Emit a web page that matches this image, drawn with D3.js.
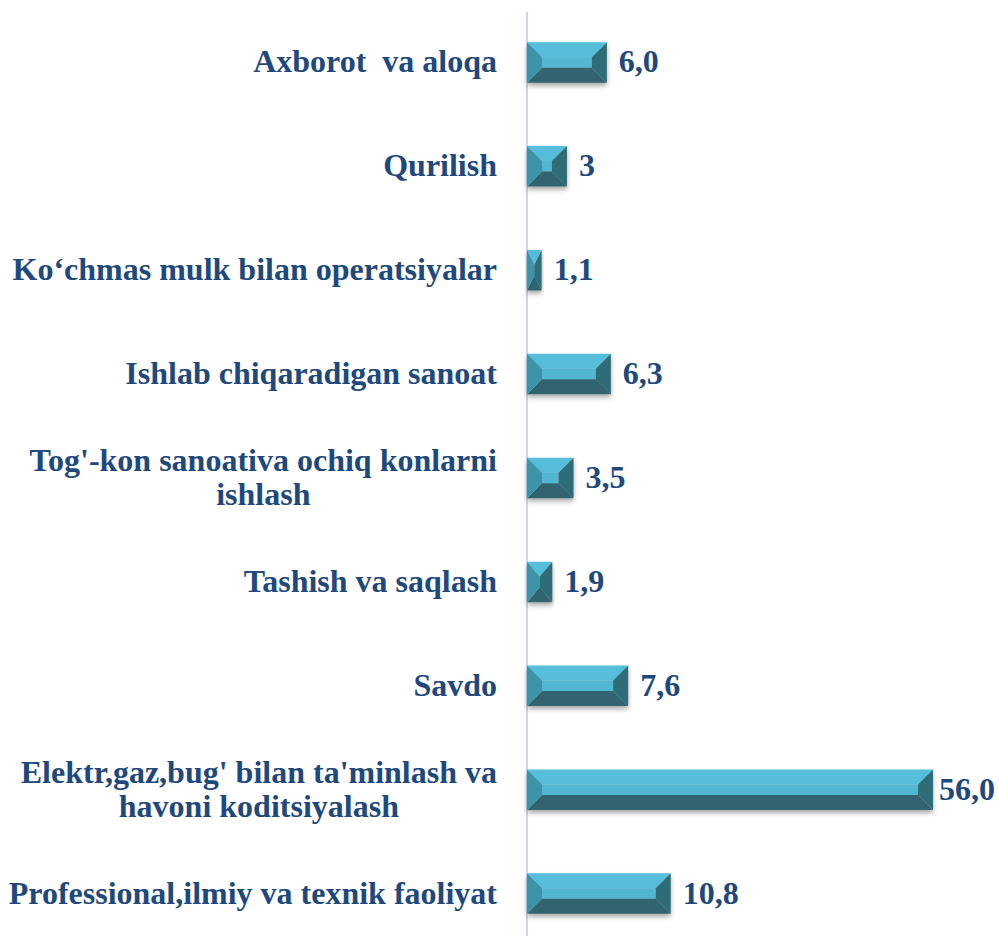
<!DOCTYPE html>
<html><head><meta charset="utf-8">
<script src="https://cdn.jsdelivr.net/npm/d3@7/dist/d3.min.js"></script>
<style>body{margin:0;background:#fff}svg{display:block}</style>
</head><body>
<script>
const categories = [
  "Axborot  va aloqa",
  "Qurilish",
  "Ko‘chmas mulk bilan operatsiyalar",
  "Ishlab chiqaradigan sanoat",
  "Tog'-kon sanoativa ochiq konlarni\nishlash",
  "Tashish va saqlash",
  "Savdo",
  "Elektr,gaz,bug' bilan ta'minlash va\nhavoni koditsiyalash",
  "Professional,ilmiy va texnik faoliyat"
];
const values = [6.0, 3, 1.1, 6.3, 3.5, 1.9, 7.6, 56.0, 10.8];
const valueLabels = ["6,0", "3", "1,1", "6,3", "3,5", "1,9", "7,6", "56,0", "10,8"];

const W = 998, H = 936;
const axisX = 527;
const textColor = "#1f497d";
const FONT = '"Liberation Serif"';
const FS = 32;
const svg = d3.select("body").append("svg").attr("width", W).attr("height", H);

const defs = svg.append("defs");
const f = defs.append("filter").attr("id", "sh").attr("x", "-10%").attr("y", "-30%").attr("width", "120%").attr("height", "170%");
f.append("feDropShadow").attr("dx", 0).attr("dy", 3).attr("stdDeviation", 2.5).attr("flood-color", "#000").attr("flood-opacity", 0.35);

// broken scale: longest bar is clamped at the plot edge
const x = d3.scaleLinear().domain([0, 30.5]).range([0, 406]).clamp(true);
const y = d3.scaleBand().domain(categories).range([11, 945]).paddingInner(0.61).paddingOuter(0.3);

svg.append("line").attr("x1", axisX).attr("x2", axisX).attr("y1", 12).attr("y2", H)
  .attr("stroke", "#c6d9f1").attr("stroke-width", 2);

const g = svg.append("g");
const bars = g.selectAll("g.bar").data(values).join("g")
  .attr("class", "bar")
  .attr("transform", (d, i) => `translate(${axisX},${y(categories[i])})`)
  .attr("filter", "url(#sh)");

bars.each(function(d) {
  const w = x(d), h = y.bandwidth();
  const b = Math.min(15, w / 2), bv = 15;
  const s = d3.select(this);
  const poly = (pts, fill) => s.append("polygon").attr("points", pts.map(p => p.join(",")).join(" ")).attr("fill", fill);
  poly([[0,0],[w,0],[w-b,bv],[b,bv]], "#56bedb");
  poly([[b,bv],[w-b,bv],[w-b,h-bv],[b,h-bv]], "#52b7d2");
  poly([[0,h],[w,h],[w-b,h-bv],[b,h-bv]], "#30636f");
  poly([[0,0],[b,bv],[b,h-bv],[0,h]], "#3d94a8");
  poly([[w,0],[w-b,bv],[w-b,h-bv],[w,h]], "#2d6c78");
});

const mid = c => y(c) + y.bandwidth() / 2;

// value labels
g.selectAll("text.val").data(values).join("text")
  .attr("class", "val")
  .attr("y", (d, i) => mid(categories[i]) + 10)
  .style("font-family", FONT).style("font-weight", "bold")
  .attr("font-size", FS)
  .attr("fill", textColor)
  .text((d, i) => valueLabels[i])
  .attr("x", function(d) {
    const tw = this.getComputedTextLength();
    return Math.min(axisX + x(d) + 12, W - 3 - tw);
  });

// category labels
const labelRight = 497;
categories.forEach((c, i) => {
  const lines = c.split("\n");
  const base = mid(c) + 10;
  const t = svg.append("text")
    .style("font-family", FONT).style("font-weight", "bold")
    .attr("font-size", FS)
    .attr("fill", textColor)
    .style("white-space", "pre");
  const lh = 34;
  const spans = lines.map((l, k) => t.append("tspan")
    .attr("y", base + (k - (lines.length - 1) / 2) * lh)
    .text(l));
  if (lines.length === 1) {
    t.attr("text-anchor", "end");
    spans[0].attr("x", labelRight);
  } else {
    const widths = spans.map(sp => sp.node().getComputedTextLength());
    const mw = Math.max(...widths);
    t.attr("text-anchor", "middle");
    spans.forEach(sp => sp.attr("x", labelRight - mw / 2));
  }
});
</script>
</body></html>
